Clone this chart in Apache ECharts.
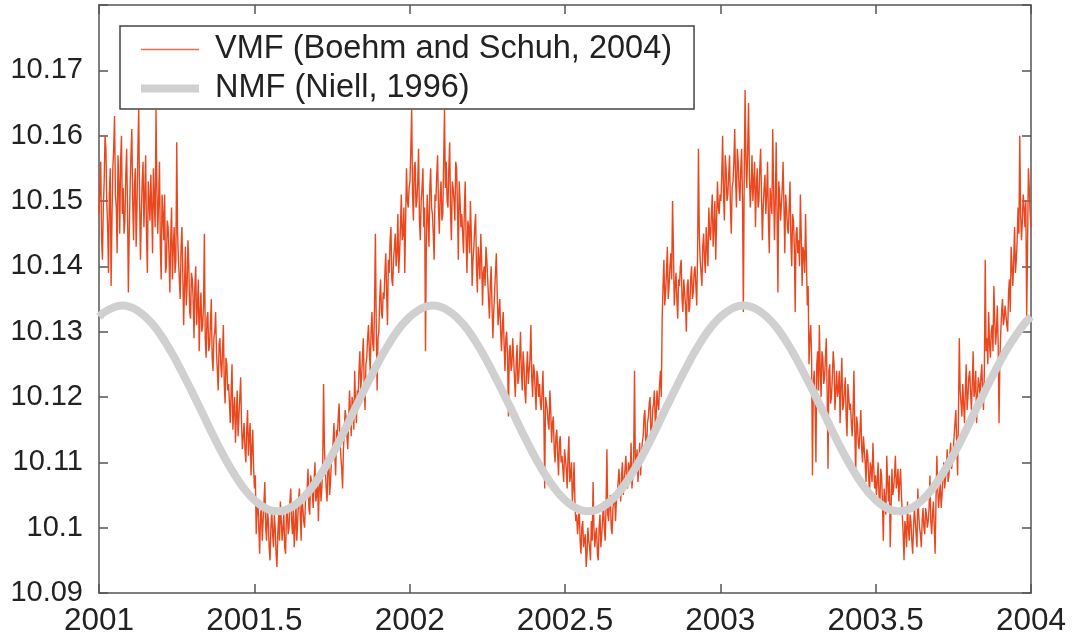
<!DOCTYPE html>
<html>
<head>
<meta charset="utf-8">
<script src="https://cdn.jsdelivr.net/npm/echarts@6/dist/echarts.min.js"></script>
<style>
html,body{margin:0;padding:0;background:#fff;}
#chart{width:1078px;height:642px;}
</style>
</head>
<body>
<div id="chart"></div>
<script>
// ---- data ----
const seriesNames = ['VMF (Boehm and Schuh, 2004)', 'NMF (Niell, 1996)'];
const xTicks = [2001, 2001.5, 2002, 2002.5, 2003, 2003.5, 2004];
const yTicks = [10.09, 10.1, 10.11, 10.12, 10.13, 10.14, 10.15, 10.16, 10.17];

// VMF values, about one per day from 2001.0 to 2004.0 (30 per month)
const vmfValues = [
  // 2001
  10.148,10.152,10.156,10.144,10.141,10.149,10.153,10.160,10.158,10.150,10.146,10.139,10.151,10.155,10.137,10.147,10.155,10.158,10.163,10.151,10.149,10.142,10.157,10.153,10.145,10.156,10.160,10.148,10.152,10.145,
  10.147,10.154,10.158,10.149,10.136,10.145,10.152,10.157,10.161,10.150,10.144,10.152,10.155,10.143,10.149,10.158,10.164,10.150,10.141,10.148,10.153,10.156,10.146,10.151,10.157,10.145,10.139,10.153,10.150,10.147,
  10.154,10.149,10.142,10.155,10.150,10.146,10.164,10.152,10.145,10.150,10.156,10.143,10.138,10.151,10.148,10.144,10.151,10.139,10.140,10.147,10.146,10.142,10.136,10.144,10.149,10.138,10.143,10.146,10.139,10.141,
  10.159,10.145,10.141,10.138,10.135,10.143,10.146,10.139,10.131,10.137,10.143,10.134,10.137,10.144,10.140,10.133,10.132,10.139,10.138,10.135,10.129,10.137,10.140,10.131,10.134,10.138,10.127,10.133,10.136,10.130,
  10.131,10.134,10.145,10.129,10.126,10.132,10.133,10.127,10.128,10.131,10.135,10.126,10.124,10.129,10.130,10.133,10.127,10.124,10.121,10.128,10.129,10.125,10.123,10.127,10.131,10.122,10.119,10.126,10.125,10.121,
  10.122,10.119,10.116,10.121,10.125,10.115,10.118,10.120,10.113,10.117,10.121,10.114,10.117,10.120,10.123,10.116,10.112,10.114,10.116,10.112,10.110,10.115,10.118,10.111,10.114,10.116,10.108,10.112,10.115,10.109,
  10.106,10.108,10.099,10.103,10.104,10.100,10.096,10.102,10.103,10.098,10.101,10.104,10.107,10.100,10.098,10.103,10.101,10.097,10.095,10.100,10.103,10.099,10.097,10.102,10.100,10.096,10.094,10.099,10.102,10.098,
  10.104,10.101,10.098,10.100,10.102,10.097,10.096,10.102,10.103,10.099,10.100,10.104,10.106,10.101,10.099,10.103,10.097,10.100,10.104,10.098,10.101,10.104,10.106,10.102,10.098,10.105,10.103,10.101,10.100,10.104,
  10.104,10.106,10.109,10.103,10.102,10.108,10.107,10.105,10.103,10.107,10.110,10.104,10.105,10.108,10.101,10.106,10.108,10.104,10.106,10.110,10.122,10.112,10.109,10.106,10.104,10.109,10.111,10.105,10.107,10.110,
  10.110,10.113,10.116,10.111,10.108,10.115,10.114,10.117,10.119,10.113,10.111,10.109,10.106,10.112,10.115,10.118,10.117,10.114,10.112,10.116,10.121,10.118,10.114,10.120,10.119,10.115,10.124,10.119,10.116,10.121,
  10.120,10.124,10.127,10.121,10.123,10.126,10.129,10.122,10.118,10.125,10.126,10.129,10.131,10.127,10.124,10.130,10.133,10.128,10.127,10.134,10.145,10.131,10.121,10.129,10.130,10.135,10.138,10.133,10.132,10.136,
  10.135,10.139,10.142,10.136,10.131,10.141,10.139,10.144,10.146,10.138,10.137,10.141,10.143,10.145,10.140,10.142,10.148,10.139,10.142,10.146,10.151,10.144,10.145,10.149,10.139,10.147,10.155,10.150,10.149,10.152,
  // 2002
  10.153,10.158,10.164,10.151,10.147,10.155,10.156,10.149,10.150,10.153,10.158,10.147,10.144,10.150,10.152,10.155,10.146,10.149,10.127,10.144,10.151,10.147,10.143,10.152,10.155,10.149,10.148,10.145,10.141,10.151,
  10.150,10.154,10.157,10.149,10.145,10.151,10.153,10.147,10.148,10.156,10.164,10.152,10.156,10.150,10.149,10.155,10.159,10.148,10.144,10.153,10.152,10.150,10.147,10.156,10.155,10.149,10.141,10.153,10.150,10.146,
  10.148,10.145,10.142,10.149,10.153,10.144,10.139,10.147,10.146,10.142,10.150,10.145,10.137,10.141,10.143,10.146,10.148,10.140,10.136,10.143,10.141,10.138,10.145,10.141,10.134,10.139,10.140,10.137,10.143,10.141,
  10.138,10.135,10.132,10.137,10.140,10.134,10.129,10.133,10.136,10.139,10.142,10.136,10.131,10.133,10.135,10.130,10.127,10.131,10.133,10.128,10.124,10.129,10.130,10.126,10.117,10.127,10.128,10.124,10.125,10.129,
  10.126,10.123,10.120,10.125,10.128,10.122,10.123,10.126,10.130,10.124,10.121,10.127,10.125,10.121,10.119,10.124,10.127,10.122,10.122,10.126,10.131,10.123,10.120,10.125,10.124,10.121,10.118,10.124,10.123,10.120,
  10.122,10.119,10.118,10.121,10.124,10.117,10.106,10.120,10.120,10.118,10.116,10.115,10.121,10.118,10.113,10.116,10.117,10.112,10.110,10.114,10.115,10.111,10.108,10.113,10.114,10.110,10.111,10.109,10.107,10.112,
  10.112,10.109,10.106,10.111,10.114,10.107,10.108,10.110,10.104,10.106,10.110,10.104,10.101,10.102,10.099,10.101,10.103,10.098,10.096,10.100,10.101,10.097,10.098,10.099,10.094,10.096,10.100,10.098,10.097,10.095,
  10.101,10.098,10.107,10.100,10.097,10.099,10.100,10.096,10.095,10.100,10.102,10.097,10.099,10.101,10.104,10.100,10.098,10.103,10.112,10.102,10.101,10.104,10.105,10.100,10.099,10.103,10.103,10.105,10.101,10.104,
  10.105,10.107,10.109,10.106,10.104,10.108,10.110,10.105,10.107,10.109,10.111,10.107,10.106,10.110,10.109,10.108,10.113,10.106,10.108,10.111,10.124,10.109,10.110,10.112,10.107,10.110,10.113,10.108,10.111,10.113,
  10.114,10.117,10.118,10.113,10.112,10.116,10.117,10.119,10.120,10.114,10.115,10.118,10.119,10.121,10.116,10.117,10.121,10.119,10.118,10.122,10.124,10.120,10.132,10.137,10.141,10.134,10.136,10.139,10.143,10.135,
  10.137,10.140,10.142,10.138,10.150,10.143,10.134,10.137,10.139,10.135,10.132,10.138,10.137,10.140,10.141,10.135,10.133,10.138,10.136,10.134,10.130,10.137,10.138,10.133,10.134,10.138,10.140,10.135,10.136,10.139,
  10.140,10.137,10.134,10.142,10.158,10.145,10.141,10.139,10.137,10.143,10.145,10.141,10.139,10.146,10.143,10.140,10.149,10.145,10.144,10.148,10.151,10.143,10.146,10.150,10.141,10.147,10.153,10.149,10.148,10.151,
  // 2003
  10.150,10.154,10.160,10.151,10.147,10.157,10.155,10.150,10.151,10.154,10.157,10.149,10.145,10.152,10.153,10.156,10.161,10.153,10.149,10.158,10.156,10.152,10.150,10.155,10.158,10.150,10.133,10.154,10.167,10.156,
  10.152,10.158,10.165,10.154,10.149,10.152,10.157,10.150,10.153,10.156,10.146,10.152,10.155,10.149,10.150,10.155,10.158,10.151,10.144,10.149,10.152,10.154,10.148,10.151,10.156,10.147,10.142,10.152,10.150,10.148,
  10.161,10.152,10.144,10.150,10.159,10.148,10.136,10.153,10.151,10.147,10.147,10.152,10.156,10.149,10.142,10.151,10.149,10.146,10.145,10.149,10.153,10.144,10.140,10.148,10.147,10.143,10.133,10.145,10.146,10.142,
  10.144,10.140,10.151,10.145,10.137,10.143,10.142,10.139,10.148,10.141,10.134,10.137,10.125,10.129,10.131,10.126,10.108,10.122,10.124,10.119,10.110,10.125,10.127,10.121,10.131,10.124,10.120,10.127,10.126,10.122,
  10.123,10.126,10.129,10.121,10.109,10.124,10.125,10.119,10.120,10.123,10.127,10.125,10.118,10.121,10.124,10.120,10.121,10.124,10.116,10.122,10.126,10.118,10.119,10.121,10.123,10.117,10.114,10.122,10.120,10.118,
  10.119,10.116,10.114,10.118,10.124,10.115,10.108,10.117,10.116,10.113,10.112,10.115,10.118,10.112,10.110,10.114,10.114,10.110,10.107,10.112,10.111,10.108,10.105,10.110,10.109,10.107,10.113,10.109,10.106,10.108,
  10.105,10.107,10.110,10.105,10.103,10.109,10.108,10.104,10.098,10.106,10.106,10.102,10.111,10.107,10.104,10.108,10.097,10.103,10.109,10.105,10.106,10.108,10.111,10.106,10.107,10.109,10.104,10.107,10.109,10.105,
  10.102,10.099,10.095,10.101,10.100,10.097,10.104,10.100,10.098,10.102,10.101,10.098,10.096,10.100,10.103,10.101,10.099,10.097,10.106,10.102,10.100,10.099,10.097,10.101,10.103,10.100,10.099,10.103,10.102,10.100,
  10.101,10.103,10.108,10.101,10.099,10.102,10.104,10.100,10.096,10.104,10.111,10.106,10.103,10.105,10.107,10.103,10.105,10.108,10.110,10.106,10.106,10.109,10.112,10.107,10.108,10.111,10.113,10.109,10.110,10.112,
  10.114,10.116,10.118,10.113,10.108,10.117,10.129,10.121,10.119,10.117,10.122,10.119,10.116,10.121,10.125,10.118,10.120,10.123,10.124,10.121,10.118,10.122,10.127,10.120,10.121,10.124,10.116,10.120,10.123,10.122,
  10.120,10.123,10.125,10.121,10.118,10.124,10.141,10.127,10.129,10.125,10.133,10.128,10.126,10.130,10.131,10.127,10.137,10.132,10.128,10.130,10.134,10.128,10.116,10.126,10.130,10.133,10.135,10.131,10.132,10.134,
  10.134,10.131,10.130,10.136,10.138,10.133,10.143,10.140,10.137,10.141,10.146,10.139,10.141,10.144,10.149,10.145,10.160,10.148,10.144,10.147,10.151,10.149,10.146,10.150,10.132,10.143,10.155,10.152,10.148,10.146
];
const vmfStart = 2001, vmfEnd = 2004;

// NMF values: 2001.0, then every 0.05 yr from 2001.025 to 2003.975, then 2004.0
const nmfFirstYear = 2001, nmfGridStart = 2001.025, nmfStep = 0.05, nmfLastYear = 2004;
const nmfValues = [
  10.1323,
  10.1332,10.1340,10.1332,10.1310,10.1275,10.1231,10.1183,10.1134,10.1090,10.1055,
  10.1033,10.1025,10.1033,10.1055,10.1090,10.1134,10.1183,10.1231,10.1275,10.1310,
  10.1332,10.1340,10.1332,10.1310,10.1275,10.1231,10.1183,10.1134,10.1090,10.1055,
  10.1033,10.1025,10.1033,10.1055,10.1090,10.1134,10.1183,10.1231,10.1275,10.1310,
  10.1332,10.1340,10.1332,10.1310,10.1275,10.1231,10.1183,10.1134,10.1090,10.1055,
  10.1033,10.1025,10.1033,10.1055,10.1090,10.1134,10.1183,10.1231,10.1275,10.1310,
  10.1323
];

// ---- build ----
const n = vmfValues.length;
const vmfData = vmfValues.map((v, i) => [vmfStart + i * (vmfEnd - vmfStart) / (n - 1), v]);
const nmfYears = [nmfFirstYear];
for (let k = 0; k < nmfValues.length - 2; k++) nmfYears.push(+(nmfGridStart + k * nmfStep).toFixed(4));
nmfYears.push(nmfLastYear);
const nmfData = nmfValues.map((v, i) => [nmfYears[i], v]);

const FONT = "'Liberation Sans', Arial, sans-serif";
const TXT = '#222222';
const AX = '#555555';
const RED = '#e9481f';
const GRAY = '#d0d0d0';

const axisCommon = {
  axisLine: {show: true, lineStyle: {color: AX, width: 1.5}},
  axisTick: {show: true, inside: true, length: 9, lineStyle: {color: AX, width: 1.5}},
  splitLine: {show: false}
};

const chart = echarts.init(document.getElementById('chart'), null, {renderer: 'canvas'});
chart.setOption({
  animation: false,
  backgroundColor: '#ffffff',
  grid: {left: 99, right: 47, top: 5, bottom: 49, containLabel: false},
  legend: {
    show: true,
    orient: 'vertical',
    left: 120, top: 26,
    padding: [7, 22, 4, 17],
    itemGap: 6,
    itemWidth: 58,
    itemHeight: 14,
    backgroundColor: '#ffffff',
    borderColor: '#444444',
    borderWidth: 1.5,
    data: [
      {name: seriesNames[0], itemStyle: {opacity: 0}, lineStyle: {color: '#ee6a4a', width: 1.5}},
      {name: seriesNames[1], itemStyle: {opacity: 0}, lineStyle: {color: GRAY, width: 8}}
    ],
    textStyle: {fontFamily: FONT, fontSize: 32.5, color: TXT, lineHeight: 33, padding: [0, 0, 0, 11]}
  },
  xAxis: [
    Object.assign({
      type: 'value', min: xTicks[0], max: xTicks[xTicks.length - 1], interval: 0.5,
      position: 'bottom',
      axisLabel: {show: true, margin: 12, fontFamily: FONT, fontSize: 31.5, color: TXT,
        formatter: v => String(+v.toFixed(1))}
    }, axisCommon),
    Object.assign({
      type: 'value', min: xTicks[0], max: xTicks[xTicks.length - 1], interval: 0.5,
      position: 'top', axisLabel: {show: false}
    }, axisCommon)
  ],
  yAxis: [
    Object.assign({
      type: 'value', min: 10.09, max: 10.18, interval: 0.01,
      position: 'left',
      axisLabel: {show: true, margin: 16, fontFamily: FONT, fontSize: 29, color: TXT,
        formatter: v => (yTicks.indexOf(+v.toFixed(2)) >= 0 ? String(+v.toFixed(2)) : '')}
    }, axisCommon),
    Object.assign({
      type: 'value', min: 10.09, max: 10.18, interval: 0.01,
      position: 'right', axisLabel: {show: false}
    }, axisCommon)
  ],
  series: [
    {
      name: seriesNames[0], type: 'line', data: vmfData,
      xAxisIndex: 0, yAxisIndex: 0,
      symbol: 'none', showSymbol: false,
      lineStyle: {color: RED, width: 1.4},
      itemStyle: {color: RED},
      z: 2
    },
    {
      name: seriesNames[1], type: 'line', data: nmfData,
      xAxisIndex: 0, yAxisIndex: 0,
      symbol: 'none', showSymbol: false, smooth: 0.4,
      lineStyle: {color: GRAY, width: 8},
      itemStyle: {color: GRAY},
      z: 3
    }
  ]
});
</script>
</body>
</html>
